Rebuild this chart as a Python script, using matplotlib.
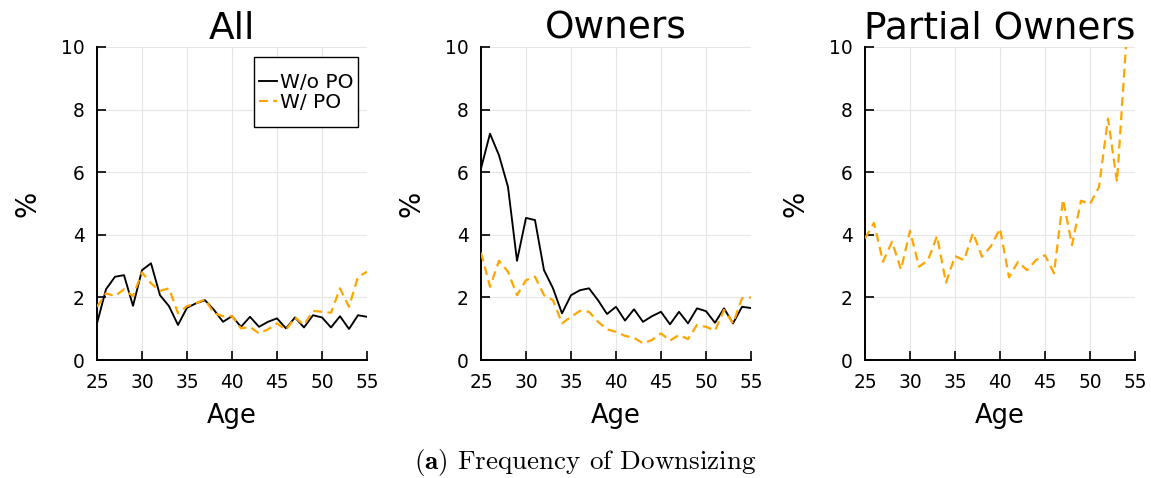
import matplotlib
matplotlib.use("Agg")
import matplotlib.pyplot as plt
from matplotlib.patches import Rectangle

plt.rcParams["font.family"] = ["DejaVu Sans"]
plt.rcParams["mathtext.fontset"] = "cm"

ages = list(range(25, 56))
panel_titles = ["All", "Owners", "Partial Owners"]
series_labels = ["W/o PO", "W/ PO"]
x_ticks = [25, 30, 35, 40, 45, 50, 55]
y_ticks = [0, 2, 4, 6, 8, 10]

# Downsizing frequency (%), by age
all_wo_po = [1.17, 2.26, 2.66, 2.71, 1.73, 2.87, 3.09, 2.07, 1.72, 1.12,
             1.67, 1.81, 1.91, 1.60, 1.22, 1.40, 1.06, 1.38, 1.06, 1.22,
             1.33, 1.01, 1.36, 1.04, 1.43, 1.36, 1.04, 1.40, 0.99, 1.43, 1.38]
all_w_po = [1.70, 2.13, 2.04, 2.26, 2.04, 2.80, 2.45, 2.21, 2.29, 1.49,
            1.72, 1.81, 1.94, 1.49, 1.40, 1.40, 1.01, 1.06, 0.85, 0.98,
            1.17, 0.96, 1.36, 1.12, 1.57, 1.54, 1.51, 2.29, 1.70, 2.66, 2.82]

owners_wo_po = [6.12, 7.23, 6.54, 5.53, 3.17, 4.54, 4.47, 2.87, 2.29, 1.49,
                2.07, 2.23, 2.29, 1.91, 1.47, 1.70, 1.26, 1.62, 1.22, 1.40,
                1.54, 1.14, 1.54, 1.17, 1.65, 1.56, 1.19, 1.65, 1.17, 1.70, 1.66]
owners_w_po = [3.43, 2.34, 3.17, 2.82, 2.07, 2.55, 2.66, 2.07, 1.91, 1.17,
               1.38, 1.57, 1.54, 1.22, 0.98, 0.90, 0.77, 0.71, 0.53, 0.64,
               0.85, 0.62, 0.80, 0.67, 1.12, 1.06, 0.94, 1.60, 1.17, 1.97, 2.00]

partial_w_po = [3.88, 4.38, 3.14, 3.78, 2.89, 4.13, 2.98, 3.19, 3.96, 2.47,
                3.32, 3.19, 4.06, 3.30, 3.64, 4.20, 2.64, 3.14, 2.87, 3.19,
                3.35, 2.77, 5.13, 3.67, 5.09, 4.98, 5.53, 7.71, 5.69, 10.05, 12.5]

panel_series = [
    [all_wo_po, all_w_po],
    [owners_wo_po, owners_w_po],
    [None, partial_w_po],
]

W, H = 1151, 478
fig = plt.figure(figsize=(W / 100, H / 100), dpi=100)

lefts_px = [97, 481, 865]
ax_w_px, top_px, bot_px = 270, 47, 360

for i, (title, (wo, w)) in enumerate(zip(panel_titles, panel_series)):
    ax = fig.add_axes([lefts_px[i] / W, (H - bot_px) / H,
                       ax_w_px / W, (bot_px - top_px) / H])
    if wo is not None:
        ax.plot(ages, wo, color="black", lw=1.35, label=series_labels[0],
                zorder=3)
    ax.plot(ages, w, color="#FFA500", lw=1.6, ls=(0, (4.0, 2.4)),
            label=series_labels[1], zorder=3)
    ax.set_xlim(25, 55)
    ax.set_ylim(0, 10)
    ax.set_xticks(x_ticks)
    ax.set_yticks(y_ticks)
    ax.grid(True, color="#e6e6e6", lw=0.8, zorder=0)
    for s in ("top", "right"):
        ax.spines[s].set_visible(False)
    for s in ("left", "bottom"):
        ax.spines[s].set_linewidth(1.4)
    ax.tick_params(direction="in", length=6.5, width=1.2, labelsize=13.4)
    ax.tick_params(axis="x", pad=9)
    ax.tick_params(axis="y", pad=9)
    ax.set_title(title, fontsize=27, pad=6)
    ax.set_xlabel("Age", fontsize=18.5, labelpad=8)
    ax.set_ylabel("%", fontsize=20, labelpad=14)
    if i == 0:
        # legend box with tight horizontal and roomy vertical padding
        ax.add_patch(Rectangle((0.581, 0.744), 0.386, 0.224,
                               transform=ax.transAxes, facecolor="white",
                               edgecolor="black", lw=1.0, zorder=4,
                               clip_on=False))
        leg = ax.legend(loc="center", bbox_to_anchor=(0.775, 0.856),
                        fontsize=14.5, frameon=False,
                        handlelength=0.9, handletextpad=0.15,
                        borderpad=0, labelspacing=0.05, borderaxespad=0)
        leg.set_zorder(5)

fig.text(585 / W, 1 - 462 / H, r"$\mathbf{(a)}$ Frequency of Downsizing",
         fontfamily="cmr10", fontsize=19.5, ha="center", va="center")

fig.savefig("out.png", dpi=100)
